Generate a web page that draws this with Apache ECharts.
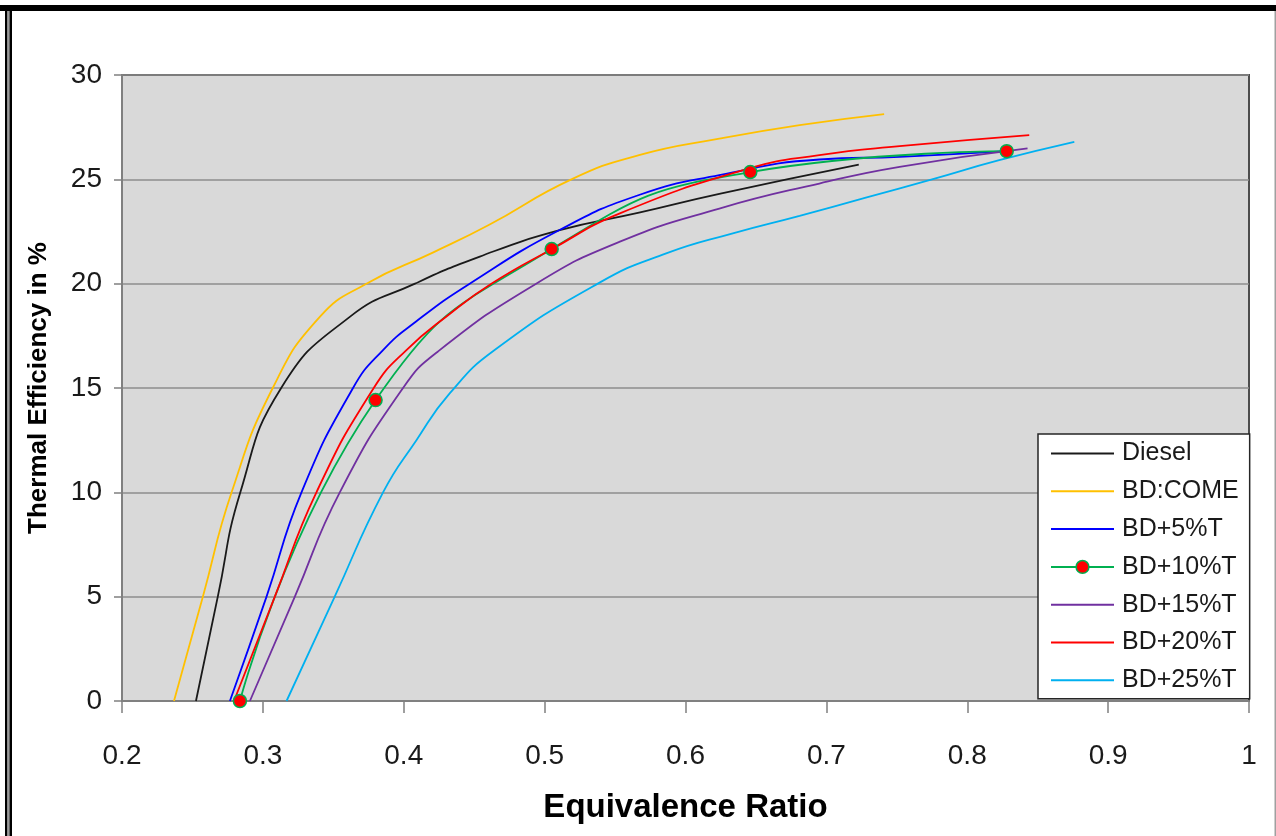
<!DOCTYPE html>
<html>
<head>
<meta charset="utf-8">
<script src="https://cdn.jsdelivr.net/npm/echarts@6/dist/echarts.min.js"></script>
<style>
html,body{margin:0;padding:0;background:#fff;}
#chart{width:1276px;height:836px;}
</style>
</head>
<body>
<div id="chart"></div>
<script>
// ---- data ----
const seriesNames = ['Diesel', 'BD:COME', 'BD+5%T', 'BD+10%T', 'BD+15%T', 'BD+20%T', 'BD+25%T'];
const seriesColors = ['#1a1a1a', '#ffc000', '#0000ff', '#00b050', '#7030a0', '#ff0000', '#00b0f0'];

const diesel = [[0.2525,0],[0.268,5],[0.284,10],[0.313,15],[0.3617,18.41],[0.408,20],[0.454,21.3],[0.51,22.55],[0.567,23.4],[0.624,24.3],[0.723,25.7]];
const bdCome = [[0.2369,0],[0.2574,5],[0.2778,10],[0.307,15],[0.3404,18.41],[0.3735,20],[0.421,21.5],[0.46,22.8],[0.519,25.0],[0.567,26.16],[0.624,26.95],[0.681,27.6],[0.741,28.13]];
const bd5 = [[0.2766,0],[0.3026,5],[0.3274,10],[0.364,15],[0.3853,16.82],[0.409,18.2],[0.4468,20.0],[0.5106,22.57],[0.567,24.25],[0.624,25.2],[0.695,25.95],[0.752,26.08],[0.828,26.35]];
const bd10 = [[0.2837,0],[0.380,14.42],[0.505,21.66],[0.646,25.35],[0.828,26.35]];
const bd15 = [[0.2908,0],[0.3227,5],[0.3546,10],[0.3995,15],[0.4243,16.75],[0.494,20.0],[0.553,22.0],[0.624,23.6],[0.695,24.8],[0.752,25.6],[0.8428,26.48]];
const bd20 = [[0.2795,0],[0.3085,5],[0.338,10],[0.3787,15],[0.4019,16.82],[0.4326,18.55],[0.4622,20.0],[0.5047,21.64],[0.553,23.36],[0.645,25.52],[0.695,26.16],[0.752,26.59],[0.844,27.12]];
const bd25 = [[0.3168,0],[0.351,5],[0.3853,10],[0.409,12.5],[0.4326,14.74],[0.4645,16.82],[0.539,20.05],[0.5863,21.45],[0.6336,22.41],[0.681,23.25],[0.728,24.12],[0.775,25.0],[0.8227,25.92],[0.876,26.8]];

const xTickLabels = ['0.2','0.3','0.4','0.5','0.6','0.7','0.8','0.9','1'];
const yTickLabels = ['0','5','10','15','20','25','30'];
const xTitle = 'Equivalence Ratio';
const yTitle = 'Thermal Efficiency in %';
const markerSeries = 'BD+10%T';

const allData = [diesel, bdCome, bd5, bd10, bd15, bd20, bd25];

const chart = echarts.init(document.getElementById('chart'), null, {renderer:'canvas'});

const series = allData.map((d, i) => {
  const isMarker = seriesNames[i] === markerSeries;
  return {
    name: seriesNames[i],
    type: 'line',
    data: d,
    smooth: 0.5,
    symbol: isMarker ? 'circle' : 'none',
    showSymbol: isMarker,
    symbolSize: 13,
    lineStyle: {color: seriesColors[i], width: 1.8},
    itemStyle: isMarker ? {color: '#ff0000', borderColor: '#00b050', borderWidth: 1.5} : {color: seriesColors[i]},
    emphasis: {disabled: true},
    animation: false,
    z: 3
  };
});

const legendData = seriesNames.map(n => n === markerSeries
  ? {name: n, itemStyle: {color: '#ff0000', borderColor: '#00b050', borderWidth: 1.5}}
  : {name: n, itemStyle: {opacity: 0}});

const labelFont = "'Liberation Sans', Arial, sans-serif";

chart.setOption({
  animation: false,
  backgroundColor: '#ffffff',
  grid: {
    left: 122, right: 27, top: 75, bottom: 135,
    show: true,
    backgroundColor: '#d9d9d9',
    borderColor: '#4d4d4d',
    borderWidth: 2
  },
  xAxis: {
    type: 'value',
    min: 0.2, max: 1, interval: 0.1,
    name: xTitle,
    nameLocation: 'middle',
    nameGap: 90,
    nameTextStyle: {fontFamily: labelFont, fontWeight: 'bold', fontSize: 33, color: '#000'},
    axisLine: {show: true, onZero: false, lineStyle: {color: '#808080', width: 2}},
    axisTick: {show: true, length: 12, lineStyle: {color: '#808080', width: 1.5}},
    axisLabel: {
      fontFamily: labelFont, fontSize: 28, color: '#1a1a1a', margin: 41,
      formatter: v => xTickLabels[Math.round((v - 0.2) * 10)]
    },
    splitLine: {show: false}
  },
  yAxis: {
    type: 'value',
    min: 0, max: 30, interval: 5,
    name: yTitle,
    nameLocation: 'middle',
    nameGap: 70,
    nameRotate: 90,
    nameTextStyle: {fontFamily: labelFont, fontWeight: 'bold', fontSize: 26, color: '#000'},
    axisLine: {show: true, lineStyle: {color: '#808080', width: 2}},
    axisTick: {show: true, length: 8, lineStyle: {color: '#808080', width: 1.5}},
    axisLabel: {
      fontFamily: labelFont, fontSize: 28, color: '#1a1a1a', margin: 20,
      formatter: v => yTickLabels[Math.round(v / 5)]
    },
    splitLine: {show: true, lineStyle: {color: '#8c8c8c', width: 1.6}}
  },
  legend: {
    orient: 'vertical',
    left: 1038, top: 434,
    data: legendData,
    backgroundColor: '#ffffff',
    borderColor: '#262626',
    borderWidth: 1.5,
    borderRadius: 0,
    padding: [7, 11, 6, 12],
    itemWidth: 63,
    itemHeight: 16,
    itemGap: 12.8,
    textStyle: {fontFamily: labelFont, fontSize: 25, color: '#1a1a1a', padding: [0, 0, 0, 3]},
    selectedMode: false
  },
  graphic: [
    {type: 'rect', shape: {x: 0, y: 5, width: 1276, height: 6}, style: {fill: '#000'}, silent: true},
    {type: 'rect', shape: {x: 5, y: 5, width: 2.5, height: 831}, style: {fill: '#000'}, silent: true},
    {type: 'rect', shape: {x: 7.5, y: 11, width: 2, height: 825}, style: {fill: '#9a9a9a'}, silent: true},
    {type: 'rect', shape: {x: 9.5, y: 5, width: 2.5, height: 831}, style: {fill: '#000'}, silent: true},
    {type: 'rect', shape: {x: 1274.5, y: 11, width: 1.5, height: 825}, style: {fill: '#a0a0a0'}, silent: true}
  ],
  series: series
});
</script>
</body>
</html>
